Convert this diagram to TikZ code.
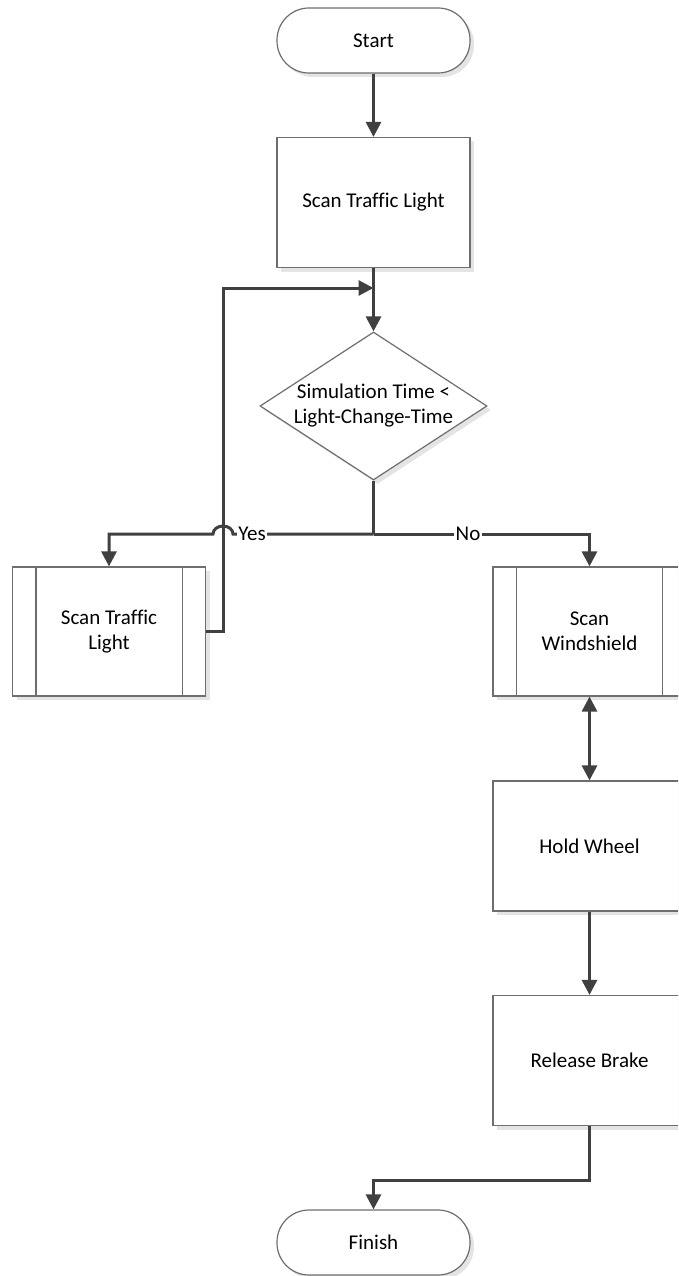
\documentclass[tikz,border=0pt]{standalone}
\usepackage{fontspec}
\setmainfont{Carlito}[Ligatures={NoCommon}]
\usetikzlibrary{shapes.geometric,arrows.meta,calc,shadows}

\definecolor{boxline}{HTML}{6E6E6E}
\definecolor{flowline}{HTML}{404040}
\definecolor{shade}{HTML}{E4E4E4}

\tikzset{
  base/.style={draw=boxline, line width=1.2pt, fill=white, align=center,
    font=\fontsize{21}{25}\selectfont, inner sep=0pt,
    drop shadow={shadow xshift=4pt, shadow yshift=-4pt, fill=shade, opacity=1}},
  term/.style={base, rectangle, rounded corners=32pt, minimum width=193pt, minimum height=65pt},
  proc/.style={base, rectangle, minimum width=193pt, minimum height=130pt},
  subproc/.style={base, rectangle, minimum width=193pt, minimum height=129pt},
  decision/.style={base, diamond, minimum width=227pt, minimum height=148pt, aspect=1.53},
  flow/.style={draw=flowline, line width=3pt,
    -{Triangle[length=15pt, width=15pt]}},
  plainflow/.style={draw=flowline, line width=3pt},
  lbl/.style={fill=white, inner sep=1.5pt, font=\fontsize{21}{25}\selectfont}
}

\newcommand{\sidebars}[1]{%
  \draw[boxline, line width=1.2pt] ($(#1.north west)+(24,0)$) -- ($(#1.south west)+(24,0)$);
  \draw[boxline, line width=1.2pt] ($(#1.north east)+(-24,0)$) -- ($(#1.south east)+(-24,0)$);
}

\begin{document}
\begin{tikzpicture}[x=1pt, y=-1pt]
  \useasboundingbox (0,0) rectangle (678,1276);
  \clip (0,0) rectangle (678,1276);

  % shapes
  \node[term] (start) at (373.5,40.5) {Start};
  \node[proc] (scan) at (373.5,202.5) {Scan Traffic Light};
  \node[decision] (dec) at (373.5,406) {Simulation Time <\\Light-Change-Time};
  \node[subproc] (left) at (109,631.5) {Scan Traffic\\Light};
  \node[subproc] (wind) at (589.5,631.5) {Scan\\Windshield};
  \node[proc] (hold) at (589.5,846) {Hold Wheel};
  \node[proc] (brake) at (589.5,1060.5) {Release Brake};
  \node[term] (finish) at (373.5,1242.5) {Finish};

  \sidebars{left}
  \sidebars{wind}

  % junctions
  \coordinate (merge) at (373.5,288);
  \coordinate (split) at (373.5,534);
  \coordinate (loopx) at (223,0);
  \coordinate (down) at (589.5,1180);

  % connectors
  \draw[flow] (start.south) -- (scan.north);
  \draw[flow] (scan.south) -- (dec.north);
  \draw[flow] (left.east) -| (loopx |- merge) -- (merge);
  \draw[plainflow] (dec.south) -- (split);
  \draw[flow] (split) -- (233,534)
      arc[start angle=0, end angle=-180, x radius=10, y radius=8]
      -| (left.north);
  \draw[flow] (split) -| (wind.north);
  \draw[draw=flowline, line width=3pt,
        {Triangle[length=15pt, width=15pt]}-{Triangle[length=15pt, width=15pt]}]
      (wind.south) -- (hold.north);
  \draw[flow] (hold.south) -- (brake.north);
  \draw[flow] (brake.south) -- (down) -| (finish.north);

  % branch labels
  \node[lbl] (yes) at (252,534) {Yes};
  \node[lbl] (no) at (468,534) {No};
\end{tikzpicture}
\end{document}
